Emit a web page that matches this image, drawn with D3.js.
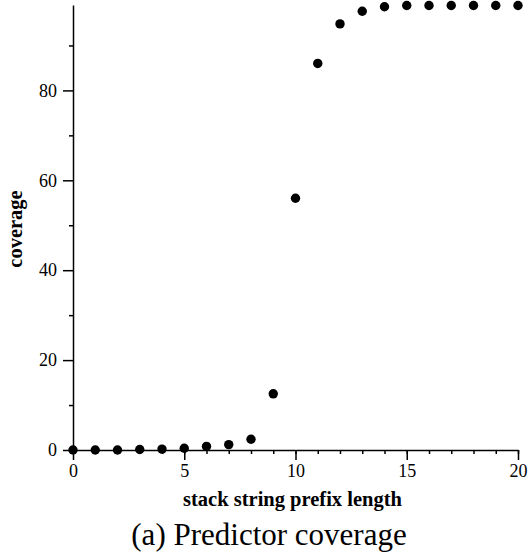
<!DOCTYPE html>
<html>
<head>
<meta charset="utf-8">
<script src="https://d3js.org/d3.v7.min.js"></script>
<style>
  body { margin: 0; background: #fff; }
  svg text { font-family: "Liberation Serif", "Times New Roman", Times, serif; }
</style>
</head>
<body>
<div id="my_dataviz"></div>
<script>
// prefix length on x, coverage (%) on y
var prefixLen = [0, 1, 2, 3, 4, 5, 6, 7, 8, 9, 10, 11, 12, 13, 14, 15, 16, 17, 18, 19, 20];
var coverage  = [0, 0, 0, 0.1, 0.2, 0.4, 0.8, 1.2, 2.4, 12.5, 56, 86, 94.8, 97.6, 98.6, 98.9, 98.9, 98.9, 98.9, 98.9, 98.9];
var xMajorTicks = [0, 5, 10, 15, 20];
var yMajorTicks = [0, 20, 40, 60, 80];

var margin = {top: 5, right: 12, bottom: 109, left: 73},
    width = 530 - margin.left - margin.right,
    height = 559 - margin.top - margin.bottom;

var root = d3.select("#my_dataviz")
  .append("svg")
    .attr("width", 530)
    .attr("height", 559);
var svg = root.append("g")
    .attr("transform", "translate(" + margin.left + "," + margin.top + ")");

var data = prefixLen.map(function(d, i) { return {len: d, cov: coverage[i]}; });

// scales
var x = d3.scaleLinear()
  .domain([0, 20])
  .range([0, 445]);
var y = d3.scaleLinear()
  .domain([0, 99])
  .range([height, 0]);

// minor ticks first (no labels)
svg.append("g")
  .attr("transform", "translate(0," + height + ")")
  .call(d3.axisBottom(x).tickValues(d3.range(0, 21, 1)).tickSize(4).tickFormat(""))
  .call(function(g) { g.select(".domain").remove(); });
svg.append("g")
  .call(d3.axisLeft(y).tickValues([10, 30, 50, 70, 90]).tickSize(4).tickFormat(""))
  .call(function(g) { g.select(".domain").remove(); });

// X axis
var xAxis = svg.append("g")
  .attr("transform", "translate(0," + height + ")")
  .call(d3.axisBottom(x).tickValues(xMajorTicks).tickSize(10).tickSizeOuter(0).tickPadding(4));

// Y axis
var yAxis = svg.append("g")
  .call(d3.axisLeft(y).tickValues(yMajorTicks).tickSize(10).tickSizeOuter(0).tickPadding(6));

svg.selectAll(".tick text")
  .attr("font-size", "18px")
  .attr("fill", "#000");
svg.selectAll("g").attr("font-family", null).attr("font-size", null);

svg.selectAll(".domain, .tick line")
  .attr("stroke", "#000")
  .attr("stroke-width", 1.5);

// dots
svg.append("g")
  .selectAll("circle")
  .data(data)
  .enter()
  .append("circle")
    .attr("cx", function(d) { return x(d.len); })
    .attr("cy", function(d) { return y(d.cov); })
    .attr("r", 4.7)
    .style("fill", "#000");

// axis titles
svg.append("text")
  .attr("x", x(10) - 3)
  .attr("y", height + 56)
  .attr("text-anchor", "middle")
  .attr("font-weight", "bold")
  .attr("font-size", "20.5px")
  .text("stack string prefix length");

svg.append("text")
  .attr("transform", "translate(" + (-51) + "," + (224) + ") rotate(-90)")
  .attr("text-anchor", "middle")
  .attr("font-weight", "bold")
  .attr("font-size", "20.5px")
  .text("coverage");

// caption under the plot
root.append("text")
  .attr("x", 269)
  .attr("y", 545)
  .attr("text-anchor", "middle")
  .attr("font-size", "31px")
  .text("(a) Predictor coverage");
</script>
</body>
</html>
